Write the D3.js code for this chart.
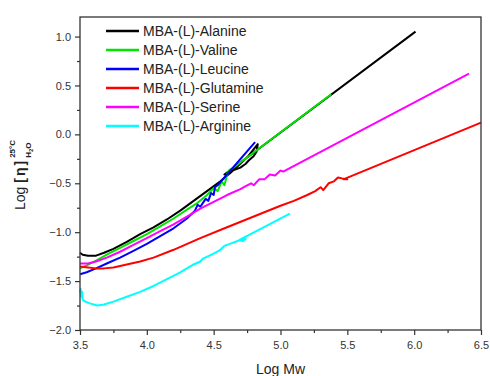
<!DOCTYPE html>
<html>
<head>
<meta charset="utf-8">
<script src="https://cdn.jsdelivr.net/npm/d3@7"></script>
<style>
  html, body { margin: 0; padding: 0; background: #fff; }
  svg { display: block; font-family: "Liberation Sans", Arial, sans-serif; }
  .axis text { font-size: 11px; fill: #333; }
  .axis line { stroke: #333; stroke-width: 1.2; }
</style>
</head>
<body>
<svg id="chart"></svg>
<script>
// series: [log Mw, log [eta]]
const alanine = [[3.50,-1.21],[3.52,-1.23],[3.56,-1.24],[3.62,-1.24],[3.68,-1.21],[3.75,-1.17],[3.85,-1.10],
  [3.95,-1.02],[4.05,-0.95],[4.15,-0.87],[4.25,-0.78],[4.35,-0.68],[4.45,-0.58],[4.55,-0.48],[4.62,-0.40],
  [4.70,-0.30],[4.76,-0.22],[4.80,-0.15],[4.83,-0.10],[4.82,-0.18],[4.80,-0.22],[4.76,-0.27],[4.74,-0.30],
  [4.70,-0.34],[4.66,-0.36],[4.62,-0.38],[4.60,-0.40],[4.58,-0.41],[6.01,1.05]];
const valine = [[3.50,-1.37],[3.55,-1.34],[3.62,-1.29],[3.70,-1.23],[3.80,-1.16],[3.90,-1.09],[4.00,-1.02],
  [4.10,-0.94],[4.20,-0.86],[4.30,-0.77],[4.38,-0.70],[4.45,-0.62],[4.50,-0.55],[4.53,-0.58],[4.56,-0.48],
  [4.58,-0.52],[4.60,-0.42],[4.62,-0.36],[4.60,-0.40],[4.62,-0.37],[5.38,0.41]];
const leucine = [[3.50,-1.43],[3.55,-1.41],[3.62,-1.37],[3.70,-1.32],[3.80,-1.26],[3.90,-1.19],[4.00,-1.12],
  [4.10,-1.04],[4.20,-0.96],[4.30,-0.86],[4.36,-0.78],[4.38,-0.72],[4.40,-0.74],[4.42,-0.70],[4.44,-0.66],
  [4.46,-0.68],[4.48,-0.60],[4.50,-0.62],[4.51,-0.54],[4.53,-0.52],[4.81,-0.08]];
const glutamine = [[3.50,-1.35],[3.56,-1.36],[3.62,-1.37],[3.68,-1.37],[3.75,-1.36],[3.85,-1.33],[3.95,-1.30],
  [4.05,-1.26],[4.20,-1.18],[4.40,-1.06],[4.60,-0.95],[4.80,-0.84],[5.00,-0.73],[5.10,-0.68],[5.20,-0.62],
  [5.26,-0.58],[5.30,-0.54],[5.32,-0.57],[5.36,-0.50],[5.40,-0.48],[5.43,-0.44],[5.46,-0.45],[5.50,-0.46],
  [5.47,-0.46],[6.50,0.12]];
const serine = [[3.50,-1.32],[3.56,-1.32],[3.62,-1.30],[3.70,-1.26],[3.80,-1.20],[3.90,-1.13],[4.00,-1.06],
  [4.10,-0.99],[4.20,-0.92],[4.30,-0.84],[4.40,-0.76],[4.50,-0.69],[4.60,-0.62],[4.70,-0.56],[4.74,-0.53],
  [4.78,-0.50],[4.80,-0.52],[4.84,-0.46],[4.88,-0.46],[4.92,-0.41],[4.96,-0.42],[5.00,-0.37],[5.02,-0.38],
  [6.41,0.62]];
const arginine = [[3.50,-1.62],[3.505,-1.58],[3.51,-1.66],[3.515,-1.61],[3.52,-1.69],[3.54,-1.71],[3.58,-1.73],
  [3.63,-1.75],[3.68,-1.74],[3.75,-1.71],[3.85,-1.66],[3.95,-1.61],[4.05,-1.55],[4.15,-1.48],[4.25,-1.41],
  [4.35,-1.33],[4.40,-1.30],[4.42,-1.27],[4.50,-1.22],[4.55,-1.18],[4.58,-1.14],[4.62,-1.12],[4.66,-1.10],
  [4.70,-1.08],[4.74,-1.07],[4.72,-1.09],[4.69,-1.08],[5.07,-0.81]];

const seriesNames = ['MBA-(L)-Alanine', 'MBA-(L)-Valine', 'MBA-(L)-Leucine',
                     'MBA-(L)-Glutamine', 'MBA-(L)-Serine', 'MBA-(L)-Arginine'];
const seriesData = [alanine, valine, leucine, glutamine, serine, arginine];
const seriesColours = ['#000000', '#00e600', '#0000ff', '#ff0000', '#ff00ff', '#00ffff'];

const xMajor = [3.5, 4.0, 4.5, 5.0, 5.5, 6.0, 6.5];
const xMinor = [3.75, 4.25, 4.75, 5.25, 5.75, 6.25];
const yMajor = [-2.0, -1.5, -1.0, -0.5, 0.0, 0.5, 1.0];
const yMinor = [-1.75, -1.25, -0.75, -0.25, 0.25, 0.75];

const width = 490, height = 376;
const margin = { top: 17, right: 9, bottom: 46, left: 80 };
const innerW = width - margin.left - margin.right;
const innerH = height - margin.top - margin.bottom;

const svg = d3.select('#chart').attr('width', width).attr('height', height);
const chart = svg.append('g').attr('transform', `translate(${margin.left},${margin.top})`);

const x = d3.scaleLinear().domain([3.5, 6.5]).range([0, innerW]);
const y = d3.scaleLinear().domain([-2.0, 1.2]).range([innerH, 0]);

// axes: major ticks with labels, minor ticks without
chart.append('g').attr('class', 'axis')
    .attr('transform', `translate(0,${innerH})`)
    .call(d3.axisBottom(x).tickValues(xMajor).tickSize(5).tickPadding(6).tickFormat(d3.format('.1f')))
    .call(g => g.select('.domain').remove());
chart.append('g').attr('class', 'axis')
    .attr('transform', `translate(0,${innerH})`)
    .call(d3.axisBottom(x).tickValues(xMinor).tickSize(3).tickFormat(''))
    .call(g => g.select('.domain').remove());
chart.append('g').attr('class', 'axis')
    .call(d3.axisLeft(y).tickValues(yMajor).tickSize(5).tickPadding(4).tickFormat(d3.format('.1f')))
    .call(g => g.select('.domain').remove());
chart.append('g').attr('class', 'axis')
    .call(d3.axisLeft(y).tickValues(yMinor).tickSize(3).tickFormat(''))
    .call(g => g.select('.domain').remove());

const line = d3.line().x(d => x(d[0])).y(d => y(d[1]));

chart.selectAll('.series')
    .data(seriesData)
    .join('path')
    .attr('class', 'series')
    .attr('d', line)
    .attr('fill', 'none')
    .attr('stroke', (d, i) => seriesColours[i])
    .attr('stroke-width', 2)
    .attr('stroke-linejoin', 'round');

// frame
chart.append('rect')
    .attr('width', innerW).attr('height', innerH)
    .attr('fill', 'none').attr('stroke', '#333').attr('stroke-width', 1.3);

// legend
const legend = chart.append('g').attr('transform', 'translate(26,14)');
const rows = legend.selectAll('g')
    .data(seriesNames)
    .join('g')
    .attr('transform', (d, i) => `translate(0,${i * 19})`);
rows.append('line')
    .attr('x1', 0).attr('x2', 33)
    .attr('stroke', (d, i) => seriesColours[i])
    .attr('stroke-width', 2.5);
rows.append('text')
    .attr('x', 37).attr('y', 5)
    .attr('font-size', 14)
    .attr('fill', '#222')
    .text(d => d);

// axis titles
svg.append('text')
    .attr('x', margin.left + innerW / 2).attr('y', 374)
    .attr('text-anchor', 'middle')
    .attr('font-size', 14).attr('fill', '#222')
    .text('Log Mw');

// y title: Log [η] with 25°C above and H2O below, stacked
const yTitle = svg.append('g').attr('transform', 'translate(25,0) rotate(-90)');
const main = yTitle.append('text')
    .attr('x', -210).attr('y', 0)
    .attr('font-size', 14).attr('fill', '#222');
main.append('tspan').text('Log ');
main.append('tspan').attr('font-weight', 'bold').attr('letter-spacing', 2).text('[η]');
const afterMain = -210 + main.node().getComputedTextLength() + 1;
yTitle.append('text')
    .attr('x', afterMain).attr('y', -10)
    .attr('font-size', 8).attr('font-weight', 'bold').attr('fill', '#222')
    .text('25°C');
const sub = yTitle.append('text')
    .attr('x', afterMain).attr('y', 6)
    .attr('font-size', 8).attr('font-weight', 'bold').attr('fill', '#222');
sub.append('tspan').text('H');
sub.append('tspan').attr('font-size', 6).attr('dy', 2).text('2');
sub.append('tspan').attr('dy', -2).text('O');
</script>
</body>
</html>
